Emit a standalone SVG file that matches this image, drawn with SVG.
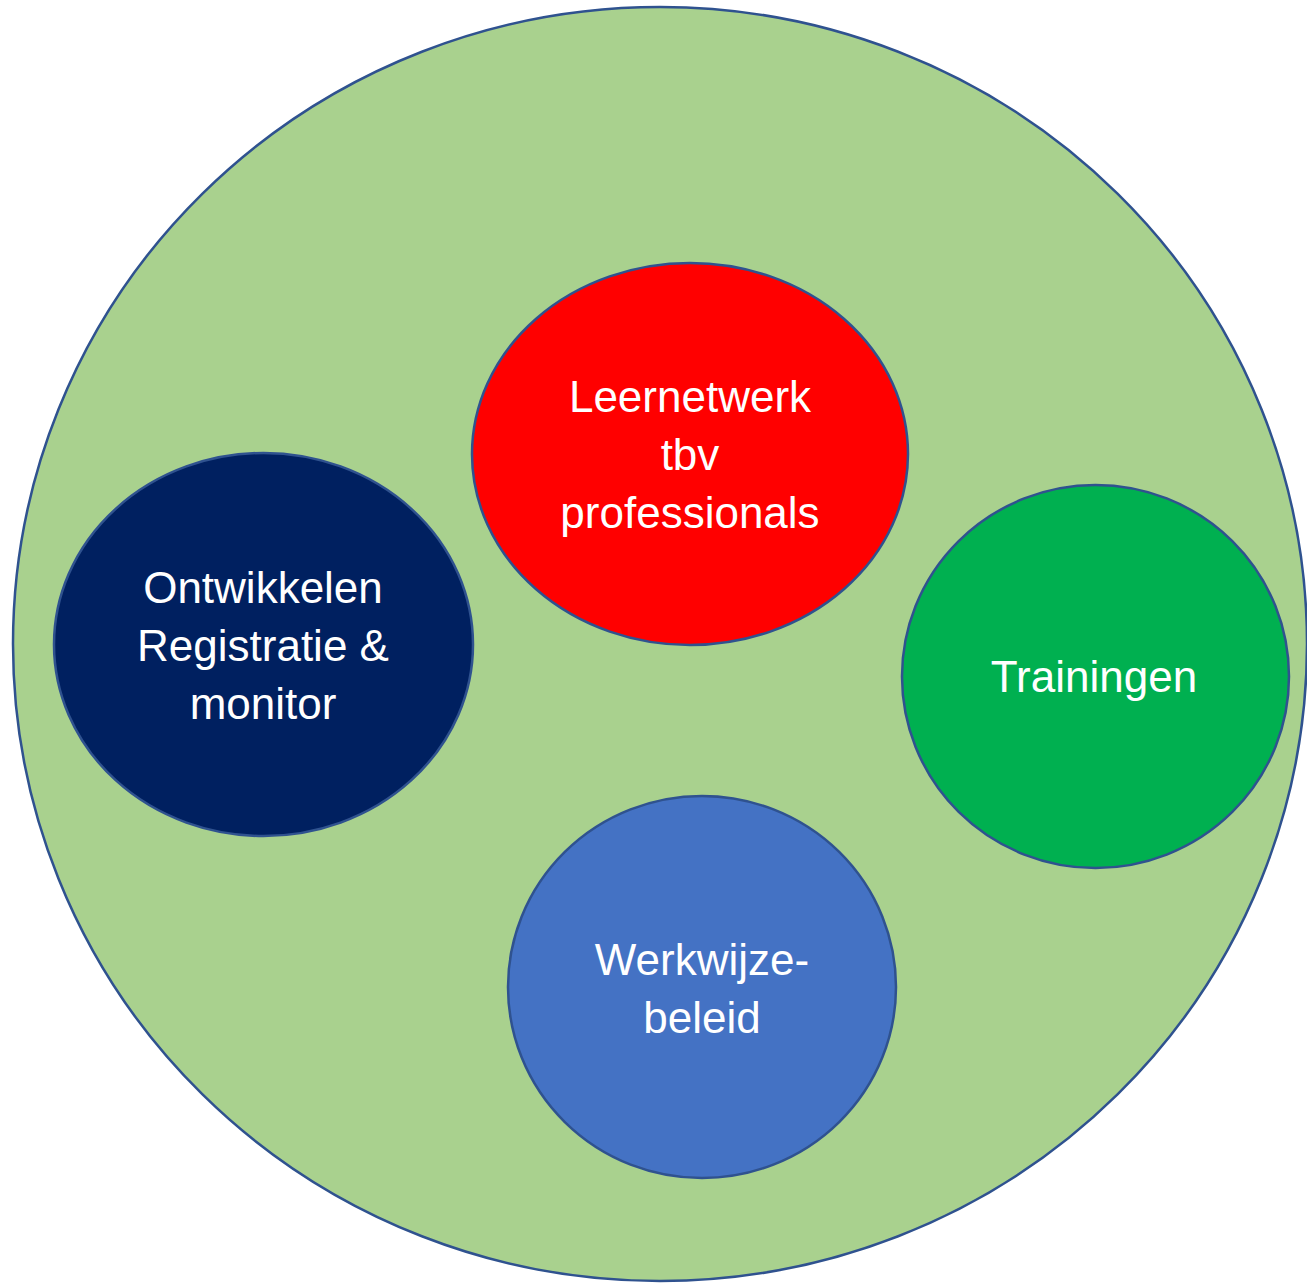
<svg xmlns="http://www.w3.org/2000/svg" width="1307" height="1283" viewBox="0 0 1307 1283">
<style>
.n{stroke:#2F528F;stroke-width:2.5}
.t{font-family:"Liberation Sans",Arial,sans-serif;font-size:44px;fill:#FFFFFF;text-anchor:middle}
</style>
<rect width="1307" height="1283" fill="#FFFFFF"/>
<g id="outer"><ellipse class="n" cx="660" cy="644" rx="647" ry="637" fill="#A9D18E"/></g>
<g id="connectors"></g>
<g id="leernetwerk">
<ellipse class="n" cx="690" cy="454" rx="218" ry="191" fill="#FF0000"/>
<text class="t" x="690" y="412">Leernetwerk</text>
<text class="t" x="690" y="470">tbv</text>
<text class="t" x="690" y="528">professionals</text>
</g>
<g id="ontwikkelen">
<ellipse class="n" cx="263.5" cy="644.5" rx="209.5" ry="191.5" fill="#002060"/>
<text class="t" x="263" y="603">Ontwikkelen</text>
<text class="t" x="263" y="661">Registratie &amp;</text>
<text class="t" x="263" y="719">monitor</text>
</g>
<g id="trainingen">
<ellipse class="n" cx="1095.5" cy="676.5" rx="193.5" ry="191.5" fill="#00B050"/>
<text class="t" x="1094" y="692">Trainingen</text>
</g>
<g id="werkwijze">
<ellipse class="n" cx="702" cy="987" rx="194" ry="191" fill="#4472C4"/>
<text class="t" x="702" y="975">Werkwijze-</text>
<text class="t" x="702" y="1033">beleid</text>
</g>
</svg>
